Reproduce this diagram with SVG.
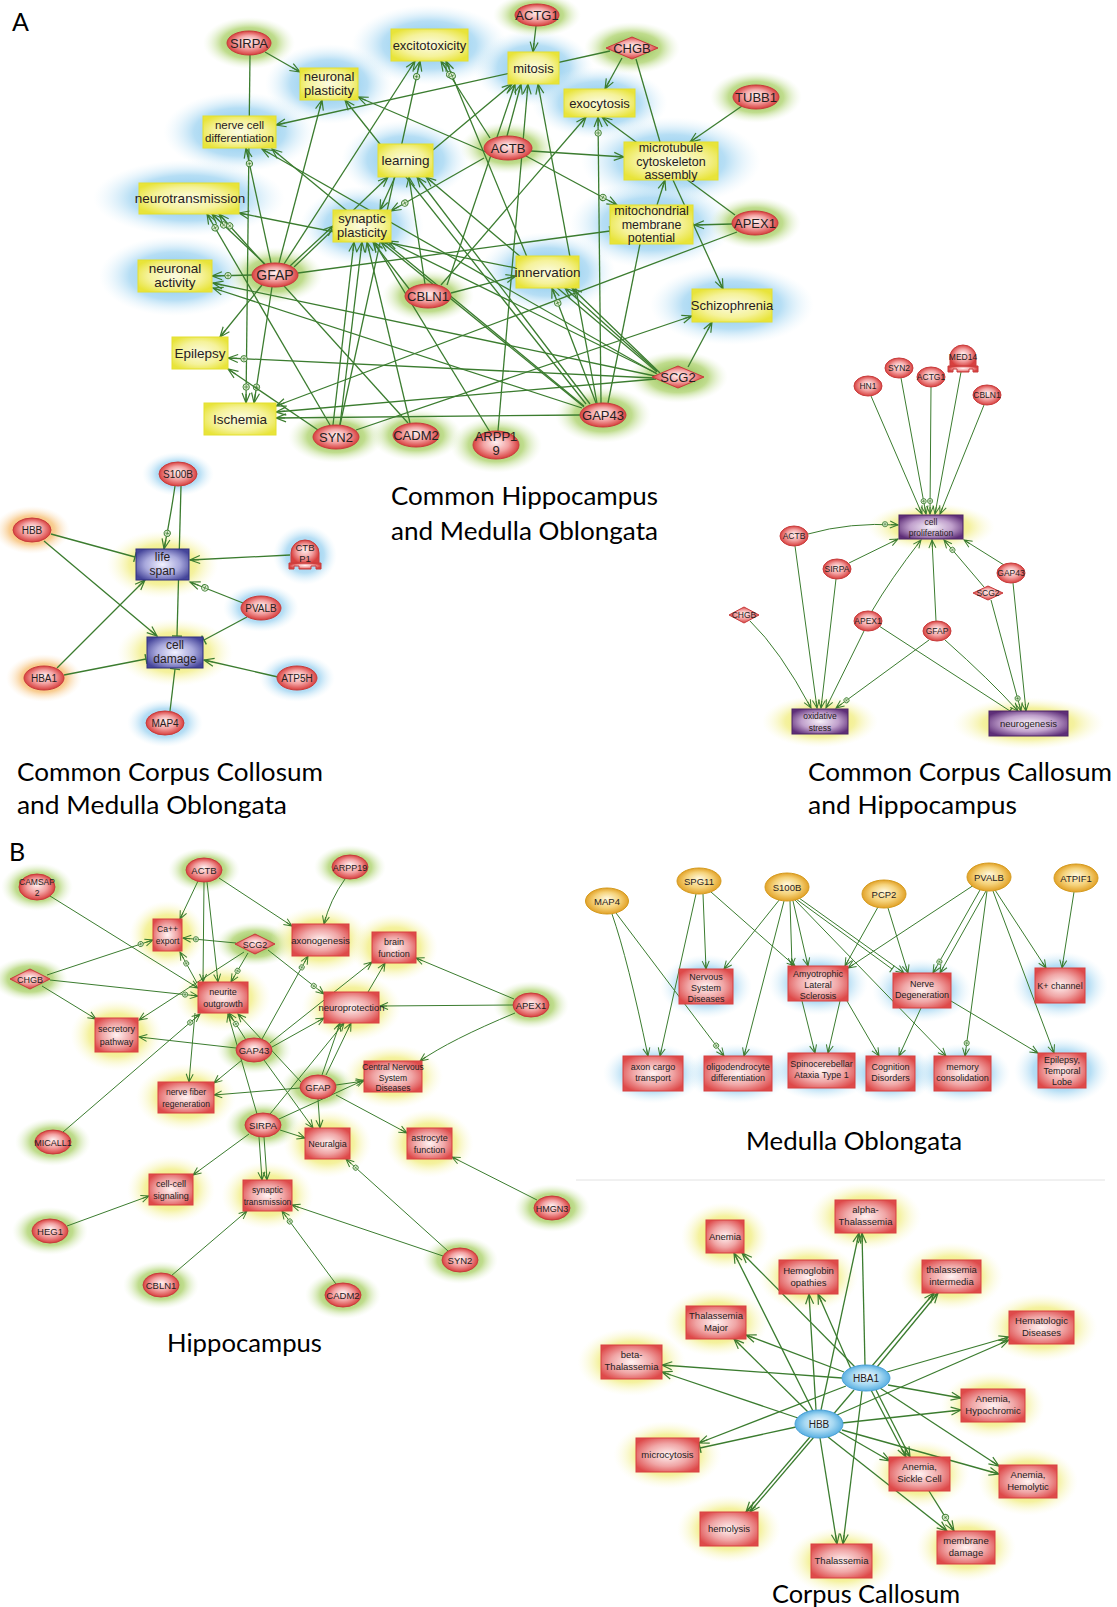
<svg xmlns="http://www.w3.org/2000/svg" width="1117" height="1607" viewBox="0 0 1117 1607">
<style>
.e{stroke:#3b7c2f;stroke-width:1.3;fill:none}
.s{stroke:#3b7c2f;stroke-width:1;fill:none}
.a{marker-end:url(#ar)}
.c{marker-end:url(#arc)}
.b{marker-end:url(#br)}
.sa{marker-end:url(#as)}
.sc{marker-end:url(#asc)}
.sb{marker-end:url(#bs)}
.t{font-family:"Liberation Sans",Arial,sans-serif;fill:#262020;text-anchor:middle}
.cap{font-family:Lato,"Liberation Sans",Arial,sans-serif;fill:#000;font-size:25px}
.gr{fill:url(#gRed);stroke:#c83c3c;stroke-width:1}
.py{fill:url(#gYel);stroke:#e4e030;stroke-width:1}
.pr{fill:url(#gRbox);stroke:#d84040;stroke-width:1}
.pb{fill:url(#gBlu);stroke:#2f2f80;stroke-width:1}
.pp{fill:url(#gPur);stroke:#4c2466;stroke-width:1}
.go{fill:url(#gGold);stroke:#d49a1e;stroke-width:1}
.bl{fill:url(#gBel);stroke:#4aa0d6;stroke-width:1}
.hB{fill:url(#hB)}.hG{fill:url(#hG)}.hY{fill:url(#hY)}.hO{fill:url(#hO)}
</style>
<defs>
<radialGradient id="gRed" cx="0.5" cy="0.5" r="0.5" fx="0.5" fy="0.4"><stop offset="0" stop-color="#fff2f2"/><stop offset="0.55" stop-color="#f3a3a3"/><stop offset="1" stop-color="#d8403f"/></radialGradient>
<radialGradient id="gYel" cx="0.5" cy="0.5" r="0.6"><stop offset="0" stop-color="#fbfbe2"/><stop offset="0.6" stop-color="#f5f29a"/><stop offset="1" stop-color="#e8e43a"/></radialGradient>
<radialGradient id="gRbox" cx="0.5" cy="0.5" r="0.6"><stop offset="0" stop-color="#fff3f3"/><stop offset="0.55" stop-color="#f0a6a6"/><stop offset="1" stop-color="#de4a4a"/></radialGradient>
<radialGradient id="gBlu" cx="0.5" cy="0.5" r="0.6"><stop offset="0" stop-color="#f2f2ff"/><stop offset="0.55" stop-color="#a8a8dc"/><stop offset="1" stop-color="#45459a"/></radialGradient>
<radialGradient id="gPur" cx="0.5" cy="0.5" r="0.6"><stop offset="0" stop-color="#f6f0f8"/><stop offset="0.55" stop-color="#c0a0cc"/><stop offset="1" stop-color="#5e2e78"/></radialGradient>
<radialGradient id="gGold" cx="0.5" cy="0.5" r="0.5" fy="0.4"><stop offset="0" stop-color="#fff8dc"/><stop offset="0.6" stop-color="#f5d27a"/><stop offset="1" stop-color="#e2a228"/></radialGradient>
<radialGradient id="gBel" cx="0.5" cy="0.5" r="0.5" fy="0.4"><stop offset="0" stop-color="#f2faff"/><stop offset="0.6" stop-color="#a6d8f2"/><stop offset="1" stop-color="#5ab0e2"/></radialGradient>
<radialGradient id="hB"><stop offset="0" stop-color="#74c0ea" stop-opacity="1"/><stop offset="0.6" stop-color="#a4d6f2" stop-opacity="0.8"/><stop offset="1" stop-color="#e0f2fb" stop-opacity="0"/></radialGradient>
<radialGradient id="hG"><stop offset="0" stop-color="#7fb43a" stop-opacity="1"/><stop offset="0.6" stop-color="#b0d472" stop-opacity="0.8"/><stop offset="1" stop-color="#e6f2d6" stop-opacity="0"/></radialGradient>
<radialGradient id="hY"><stop offset="0" stop-color="#ebe63c" stop-opacity="1"/><stop offset="0.6" stop-color="#f2ee88" stop-opacity="0.8"/><stop offset="1" stop-color="#fbfad8" stop-opacity="0"/></radialGradient>
<radialGradient id="hO"><stop offset="0" stop-color="#f29428" stop-opacity="1"/><stop offset="0.6" stop-color="#f7c27a" stop-opacity="0.8"/><stop offset="1" stop-color="#fcebd2" stop-opacity="0"/></radialGradient>
<marker id="ar" markerUnits="userSpaceOnUse" markerWidth="12" markerHeight="10" refX="10" refY="4" orient="auto" overflow="visible"><path d="M0,0 L10,4 L0,8 M1,4 L10,4" fill="none" stroke="#3b7c2f" stroke-width="1.2"/></marker>
<marker id="arc" markerUnits="userSpaceOnUse" markerWidth="12" markerHeight="10" refX="10" refY="4" orient="auto" overflow="visible"><path d="M0,0 L10,4 L0,8 M1,4 L10,4" fill="none" stroke="#3b7c2f" stroke-width="1.2"/><circle cx="-6" cy="4" r="3.2" fill="#dcebd0" stroke="#3b7c2f" stroke-width="0.9"/><path d="M-8,4 L-4,4 M-6,2 L-6,6" stroke="#3b7c2f" stroke-width="0.7"/></marker>
<marker id="br" markerUnits="userSpaceOnUse" markerWidth="4" markerHeight="12" refX="1" refY="0" orient="auto" overflow="visible"><path d="M1,-5 L1,5" stroke="#3b7c2f" stroke-width="1.4"/></marker>
<marker id="as" markerUnits="userSpaceOnUse" markerWidth="9" markerHeight="8" refX="8" refY="3.5" orient="auto" overflow="visible"><path d="M0,0 L8,3.5 L0,7 M1,3.5 L8,3.5" fill="none" stroke="#3b7c2f" stroke-width="1"/></marker>
<marker id="asc" markerUnits="userSpaceOnUse" markerWidth="9" markerHeight="8" refX="8" refY="3.5" orient="auto" overflow="visible"><path d="M0,0 L8,3.5 L0,7 M1,3.5 L8,3.5" fill="none" stroke="#3b7c2f" stroke-width="1"/><circle cx="-5" cy="3.5" r="2.6" fill="#dcebd0" stroke="#3b7c2f" stroke-width="0.8"/><path d="M-6.6,3.5 L-3.4,3.5 M-5,1.9 L-5,5.1" stroke="#3b7c2f" stroke-width="0.6"/></marker>
<marker id="bs" markerUnits="userSpaceOnUse" markerWidth="4" markerHeight="10" refX="1" refY="0" orient="auto" overflow="visible"><path d="M1,-4 L1,4" stroke="#3b7c2f" stroke-width="1.2"/></marker>
</defs>
<rect width="1117" height="1607" fill="#ffffff"/>

<g id="halos">
<ellipse class="hB" cx="429.5" cy="45" rx="78" ry="40"/>
<ellipse class="hB" cx="329" cy="84" rx="64" ry="40"/>
<ellipse class="hB" cx="533.5" cy="68" rx="60" ry="38"/>
<ellipse class="hB" cx="599.5" cy="103" rx="68" ry="36"/>
<ellipse class="hB" cx="239.5" cy="132" rx="76" ry="40"/>
<ellipse class="hB" cx="405.5" cy="160" rx="64" ry="40"/>
<ellipse class="hB" cx="671" cy="161" rx="90" ry="44"/>
<ellipse class="hB" cx="189" cy="198" rx="96" ry="38"/>
<ellipse class="hB" cx="362" cy="226" rx="62" ry="40"/>
<ellipse class="hB" cx="651.5" cy="224" rx="82" ry="44"/>
<ellipse class="hB" cx="547.5" cy="272" rx="68" ry="40"/>
<ellipse class="hB" cx="175" cy="276" rx="76" ry="40"/>
<ellipse class="hB" cx="732" cy="305" rx="82" ry="40"/>
<ellipse class="hG" cx="249" cy="43" rx="46" ry="26"/>
<ellipse class="hG" cx="537" cy="15" rx="44" ry="22"/>
<ellipse class="hG" cx="632" cy="48" rx="48" ry="26"/>
<ellipse class="hG" cx="756" cy="97" rx="46" ry="26"/>
<ellipse class="hG" cx="508" cy="148" rx="48" ry="26"/>
<ellipse class="hG" cx="755" cy="223" rx="46" ry="26"/>
<ellipse class="hG" cx="275" cy="275" rx="48" ry="28"/>
<ellipse class="hG" cx="428" cy="296" rx="46" ry="26"/>
<ellipse class="hG" cx="678" cy="377" rx="50" ry="26"/>
<ellipse class="hG" cx="603" cy="415" rx="48" ry="28"/>
<ellipse class="hG" cx="336" cy="437" rx="48" ry="26"/>
<ellipse class="hG" cx="416" cy="435" rx="46" ry="26"/>
<ellipse class="hG" cx="496" cy="445" rx="46" ry="28"/>
<ellipse class="hB" cx="178" cy="474" rx="36" ry="22"/>
<ellipse class="hO" cx="32" cy="530" rx="38" ry="24"/>
<ellipse class="hY" cx="162.5" cy="564.5" rx="56" ry="34"/>
<ellipse class="hB" cx="305" cy="555" rx="32" ry="30"/>
<ellipse class="hB" cx="261" cy="608" rx="38" ry="24"/>
<ellipse class="hY" cx="175" cy="652.5" rx="58" ry="34"/>
<ellipse class="hO" cx="44" cy="678" rx="38" ry="24"/>
<ellipse class="hB" cx="297" cy="678" rx="38" ry="24"/>
<ellipse class="hB" cx="165" cy="723" rx="38" ry="24"/>
<ellipse class="hY" cx="931" cy="527" rx="64" ry="24"/>
<ellipse class="hY" cx="820" cy="721.5" rx="58" ry="26"/>
<ellipse class="hY" cx="1028.5" cy="723.5" rx="76" ry="26"/>
<ellipse class="hG" cx="37" cy="887" rx="36" ry="24"/>
<ellipse class="hG" cx="204" cy="870" rx="36" ry="22"/>
<ellipse class="hG" cx="350" cy="867" rx="36" ry="22"/>
<ellipse class="hG" cx="255" cy="944" rx="40" ry="22"/>
<ellipse class="hG" cx="30" cy="979" rx="38" ry="22"/>
<ellipse class="hG" cx="254" cy="1050" rx="38" ry="24"/>
<ellipse class="hG" cx="531" cy="1005" rx="38" ry="24"/>
<ellipse class="hG" cx="318" cy="1087" rx="38" ry="24"/>
<ellipse class="hG" cx="263" cy="1125" rx="38" ry="24"/>
<ellipse class="hG" cx="53" cy="1142" rx="38" ry="24"/>
<ellipse class="hG" cx="552" cy="1208" rx="38" ry="24"/>
<ellipse class="hG" cx="50" cy="1231" rx="38" ry="24"/>
<ellipse class="hG" cx="460" cy="1260" rx="38" ry="24"/>
<ellipse class="hG" cx="161" cy="1285" rx="38" ry="24"/>
<ellipse class="hG" cx="343" cy="1295" rx="38" ry="24"/>
<ellipse class="hY" cx="167.5" cy="935" rx="38" ry="34"/>
<ellipse class="hY" cx="320.5" cy="940" rx="50" ry="34"/>
<ellipse class="hY" cx="394" cy="947.5" rx="44" ry="34"/>
<ellipse class="hY" cx="223" cy="997.5" rx="48" ry="34"/>
<ellipse class="hY" cx="351.5" cy="1007.5" rx="50" ry="34"/>
<ellipse class="hY" cx="116.5" cy="1035" rx="46" ry="36"/>
<ellipse class="hY" cx="393" cy="1076.5" rx="50" ry="32"/>
<ellipse class="hY" cx="186" cy="1097.5" rx="50" ry="34"/>
<ellipse class="hY" cx="327.5" cy="1143.5" rx="44" ry="34"/>
<ellipse class="hY" cx="429.5" cy="1143.5" rx="44" ry="34"/>
<ellipse class="hY" cx="171" cy="1189.5" rx="44" ry="34"/>
<ellipse class="hY" cx="267.5" cy="1195.5" rx="46" ry="34"/>
<ellipse class="hB" cx="706" cy="986.5" rx="46" ry="32"/>
<ellipse class="hB" cx="818" cy="983.5" rx="50" ry="32"/>
<ellipse class="hB" cx="922" cy="990.5" rx="50" ry="32"/>
<ellipse class="hB" cx="1060" cy="985.5" rx="48" ry="34"/>
<ellipse class="hB" cx="653" cy="1073.5" rx="50" ry="30"/>
<ellipse class="hB" cx="738" cy="1073.5" rx="52" ry="30"/>
<ellipse class="hB" cx="821.5" cy="1070.5" rx="52" ry="30"/>
<ellipse class="hB" cx="890.5" cy="1073.5" rx="44" ry="30"/>
<ellipse class="hB" cx="962.5" cy="1073.5" rx="48" ry="30"/>
<ellipse class="hB" cx="1062" cy="1070.5" rx="48" ry="34"/>
<ellipse class="hY" cx="865.5" cy="1216.5" rx="56" ry="34"/>
<ellipse class="hY" cx="725" cy="1236.5" rx="44" ry="34"/>
<ellipse class="hY" cx="808.5" cy="1277" rx="50" ry="34"/>
<ellipse class="hY" cx="951.5" cy="1276.5" rx="52" ry="34"/>
<ellipse class="hY" cx="716" cy="1322.5" rx="52" ry="34"/>
<ellipse class="hY" cx="1041.5" cy="1327.5" rx="56" ry="34"/>
<ellipse class="hY" cx="631.5" cy="1362" rx="54" ry="34"/>
<ellipse class="hY" cx="993" cy="1405.5" rx="52" ry="34"/>
<ellipse class="hY" cx="667.5" cy="1455" rx="54" ry="34"/>
<ellipse class="hY" cx="919.5" cy="1474" rx="50" ry="34"/>
<ellipse class="hY" cx="1028" cy="1481.5" rx="50" ry="34"/>
<ellipse class="hY" cx="729" cy="1529" rx="52" ry="34"/>
<ellipse class="hY" cx="966" cy="1547.5" rx="50" ry="34"/>
<ellipse class="hY" cx="841.5" cy="1561" rx="54" ry="34"/>
</g>

<g id="connectors">
<path class="e a" d="M265,52 L300,72"/>
<path class="e c" d="M250,55 L246,403"/>
<path class="e a" d="M610,51 L276,125"/>
<path class="e c" d="M271,263 L246,148"/>
<path class="e a" d="M279,263 L322,100"/>
<path class="e a" d="M284,264 L415,61"/>
<path class="e a" d="M290,266 L333,226"/>
<path class="e a" d="M294,267 L388,177"/>
<path class="e c" d="M265,264 L212,214"/>
<path class="e c" d="M252,275 L212,276"/>
<path class="e a" d="M262,285 L220,337"/>
<path class="e c" d="M272,287 L254,403"/>
<path class="e b" d="M298,273 L610,231"/>
<path class="e c" d="M330,425 L207,214"/>
<path class="e c" d="M408,423 L219,214"/>
<path class="e a" d="M486,152 L358,97"/>
<path class="e c" d="M340,425 L420,61"/>
<path class="e c" d="M490,138 L441,61"/>
<path class="e c" d="M527,257 L446,61"/>
<path class="e a" d="M433,150 L512,84"/>
<path class="e c" d="M484,158 L391,211"/>
<path class="e a" d="M395,177 L380,210"/>
<path class="e a" d="M425,284 L409,177"/>
<path class="e a" d="M590,404 L417,177"/>
<path class="e a" d="M657,372 L426,177"/>
<path class="e a" d="M410,290 L373,242"/>
<path class="e a" d="M333,425 L354,242"/>
<path class="e a" d="M340,425 L362,242"/>
<path class="e a" d="M410,423 L367,242"/>
<path class="e a" d="M490,432 L374,242"/>
<path class="e a" d="M584,407 L381,242"/>
<path class="e a" d="M656,373 L388,241"/>
<path class="e a" d="M451,293 L516,276"/>
<path class="e a" d="M441,285 L586,117"/>
<path class="e a" d="M447,285 L515,84"/>
<path class="e c" d="M601,403 L598,117"/>
<path class="e a" d="M597,403 L538,84"/>
<path class="e a" d="M498,431 L528,84"/>
<path class="e a" d="M507,136 L521,84"/>
<path class="e a" d="M536,26 L533,52"/>
<path class="e a" d="M622,58 L605,89"/>
<path class="e" d="M636,59 L660,142"/>
<path class="e a" d="M742,106 L690,142"/>
<path class="e a" d="M531,151 L624,157"/>
<path class="e c" d="M526,156 L617,205"/>
<path class="e a" d="M735,215 L602,117"/>
<path class="e a" d="M657,205 L665,180"/>
<path class="e a" d="M673,180 L723,289"/>
<path class="e a" d="M732,224 L694,225"/>
<path class="e a" d="M737,232 L276,406"/>
<path class="e" d="M608,403 L640,244"/>
<path class="e a" d="M688,367 L712,322"/>
<path class="e a" d="M356,430 L692,316"/>
<path class="e c" d="M596,403 L552,288"/>
<path class="e a" d="M657,371 L565,288"/>
<path class="e a" d="M660,373 L572,288"/>
<path class="e a" d="M516,268 L239,213"/>
<path class="e a" d="M655,376 L213,283"/>
<path class="e a" d="M582,408 L213,288"/>
<path class="e c" d="M654,378 L228,358"/>
<path class="e a" d="M318,430 L228,369"/>
<path class="e a" d="M580,415 L276,418"/>
<path class="e a" d="M656,379 L276,412"/>
<path class="e a" d="M586,404 L345,100"/>
<path class="e a" d="M657,374 L262,149"/>
<path class="e a" d="M584,406 L272,149"/>
<path class="e c" d="M175,486 Q170,520 164,549"/>
<path class="e b" d="M181,486 L177,636"/>
<path class="e b" d="M51,534 L135,557"/>
<path class="e a" d="M44,541 L157,636"/>
<path class="e a" d="M290,555 L190,560"/>
<path class="e c" d="M243,603 L190,582"/>
<path class="e b" d="M247,617 L204,640"/>
<path class="e a" d="M57,668 L145,580"/>
<path class="e b" d="M64,675 L146,659"/>
<path class="e a" d="M278,677 L204,660"/>
<path class="e b" d="M170,711 L175,669"/>
<path class="s sa" d="M871,396 L922,514"/>
<path class="s sc" d="M901,378 L926,514"/>
<path class="s sc" d="M931,387 L930,514"/>
<path class="s sa" d="M961,372 L935,514"/>
<path class="s sa" d="M984,405 L940,514"/>
<path class="s sc" d="M808,534 Q850,522 898,525"/>
<path class="s sa" d="M849,563 L898,539"/>
<path class="s sa" d="M872,611 Q890,580 921,540"/>
<path class="s sa" d="M936,621 L932,540"/>
<path class="s sc" d="M984,587 L944,540"/>
<path class="s sa" d="M1004,565 L964,540"/>
<path class="s sa" d="M795,546 L817,708"/>
<path class="s sa" d="M836,579 L821,708"/>
<path class="s sa" d="M750,621 Q780,650 811,708"/>
<path class="s sa" d="M864,631 L826,708"/>
<path class="s sc" d="M929,640 L836,708"/>
<path class="s sb" d="M879,626 L1010,711"/>
<path class="s sa" d="M945,640 Q990,680 1018,711"/>
<path class="s sc" d="M991,600 L1021,711"/>
<path class="s sa" d="M1013,583 L1026,711"/>
<path class="s sa" d="M198,881 L180,919"/>
<path class="s sa" d="M204,882 L203,982"/>
<path class="s sa" d="M207,882 L218,982"/>
<path class="s sa" d="M219,878 L292,926"/>
<path class="s sa" d="M345,879 Q330,900 324,924"/>
<path class="s sa" d="M50,896 L198,988"/>
<path class="s sc" d="M47,975 L153,940"/>
<path class="s sc" d="M50,980 L198,996"/>
<path class="s sa" d="M42,986 L96,1019"/>
<path class="s sc" d="M236,943 L183,938"/>
<path class="s sc" d="M248,953 L231,982"/>
<path class="s sa" d="M244,952 L139,1020"/>
<path class="s sc" d="M268,950 L324,994"/>
<path class="s sc" d="M197,983 L180,952"/>
<path class="s sc" d="M246,1040 L229,1013"/>
<path class="s sa" d="M236,1048 L139,1037"/>
<path class="s sa" d="M242,1060 L214,1083"/>
<path class="s sc" d="M262,1039 L308,956"/>
<path class="s sa" d="M270,1043 L372,962"/>
<path class="s sa" d="M272,1047 L324,1018"/>
<path class="s sa" d="M264,1060 L313,1128"/>
<path class="s sc" d="M63,1132 L200,1014"/>
<path class="s sa" d="M195,1013 L189,1082"/>
<path class="s sa" d="M257,1114 L228,1014"/>
<path class="s sa" d="M301,1082 L238,1014"/>
<path class="s sa" d="M249,1134 L193,1175"/>
<path class="s sa" d="M259,1137 L262,1180"/>
<path class="s sa" d="M264,1137 L267,1180"/>
<path class="s sa" d="M280,1130 L305,1138"/>
<path class="s sa" d="M270,1114 L344,1023"/>
<path class="s sa" d="M279,1119 L364,1080"/>
<path class="s sa" d="M322,1075 L340,1023"/>
<path class="s sa" d="M326,1075 L351,1023"/>
<path class="s sa" d="M336,1085 L364,1081"/>
<path class="s sa" d="M318,1099 L320,1128"/>
<path class="s sa" d="M336,1095 L407,1133"/>
<path class="s sa" d="M300,1088 L214,1095"/>
<path class="s sa" d="M368,992 L385,963"/>
<path class="s sa" d="M514,999 L416,958"/>
<path class="s sa" d="M513,1005 L380,1006"/>
<path class="s sa" d="M515,1013 Q450,1040 420,1061"/>
<path class="s sa" d="M537,1200 L452,1157"/>
<path class="s sa" d="M443,1256 L292,1205"/>
<path class="s sc" d="M448,1251 L346,1159"/>
<path class="s sc" d="M336,1284 L282,1211"/>
<path class="s sa" d="M171,1276 L247,1211"/>
<path class="s sa" d="M67,1226 L149,1196"/>
<path class="s sa" d="M612,914 Q628,960 648,1056"/>
<path class="s sc" d="M616,913 L724,1056"/>
<path class="s sa" d="M703,894 L706,969"/>
<path class="s sa" d="M696,894 L660,1056"/>
<path class="s sa" d="M711,892 L795,966"/>
<path class="s sa" d="M780,899 L724,969"/>
<path class="s sa" d="M784,901 L744,1056"/>
<path class="s sa" d="M790,901 L792,966"/>
<path class="s sa" d="M793,901 L808,966"/>
<path class="s sa" d="M799,898 L904,973"/>
<path class="s sb" d="M796,899 L892,969"/>
<path class="s sa" d="M795,900 L946,1056"/>
<path class="s sa" d="M878,907 L845,966"/>
<path class="s sa" d="M888,908 L908,973"/>
<path class="s sa" d="M974,885 L848,968"/>
<path class="s sc" d="M980,890 L933,973"/>
<path class="s sa" d="M986,891 L940,973"/>
<path class="s sc" d="M987,891 L965,1056"/>
<path class="s sa" d="M995,890 L1046,968"/>
<path class="s sa" d="M993,891 L1054,1053"/>
<path class="s sa" d="M1074,892 L1062,968"/>
<path class="s sa" d="M802,1001 L815,1053"/>
<path class="s sa" d="M840,1001 L828,1053"/>
<path class="s sa" d="M847,1001 L879,1056"/>
<path class="s sa" d="M921,1008 L899,1056"/>
<path class="s sa" d="M951,1001 L1038,1053"/>
<path class="e a" d="M865,1365 L862,1233"/>
<path class="e a" d="M821,1410 L859,1233"/>
<path class="e a" d="M855,1367 L742,1253"/>
<path class="e a" d="M813,1411 L734,1253"/>
<path class="e a" d="M851,1369 L818,1294"/>
<path class="e a" d="M816,1410 L809,1294"/>
<path class="e a" d="M872,1366 L934,1293"/>
<path class="e a" d="M877,1367 L938,1293"/>
<path class="e a" d="M844,1372 L746,1335"/>
<path class="e a" d="M808,1412 L734,1339"/>
<path class="e a" d="M842,1378 L662,1365"/>
<path class="e a" d="M798,1418 L662,1372"/>
<path class="e a" d="M887,1372 L1009,1337"/>
<path class="e a" d="M837,1415 L1009,1340"/>
<path class="e a" d="M888,1385 L961,1398"/>
<path class="e a" d="M842,1423 L961,1410"/>
<path class="e a" d="M846,1386 L699,1443"/>
<path class="e b" d="M796,1427 L700,1448"/>
<path class="e a" d="M871,1390 L906,1457"/>
<path class="e a" d="M876,1390 L910,1457"/>
<path class="e a" d="M838,1431 L890,1461"/>
<path class="e a" d="M880,1388 L999,1466"/>
<path class="e a" d="M842,1430 L999,1474"/>
<path class="e a" d="M854,1390 L750,1512"/>
<path class="e a" d="M810,1437 L746,1512"/>
<path class="e a" d="M828,1437 L947,1531"/>
<path class="e c" d="M929,1491 L954,1531"/>
<path class="e a" d="M820,1438 L837,1544"/>
<path class="e a" d="M862,1391 L843,1544"/>
</g>

<g id="A-excitotoxicity"><rect class="py" x="391" y="29" width="77" height="32"/><text class="t" x="429.5" y="50" font-size="13">excitotoxicity</text></g>
<g id="A-neuronal-plasticity"><rect class="py" x="300" y="68" width="58" height="32"/><text class="t" x="329" y="81" font-size="13">neuronal</text><text class="t" x="329" y="95" font-size="13">plasticity</text></g>
<g id="A-mitosis"><rect class="py" x="508" y="52" width="51" height="32"/><text class="t" x="533.5" y="73" font-size="13">mitosis</text></g>
<g id="A-exocytosis"><rect class="py" x="564" y="89" width="71" height="28"/><text class="t" x="599.5" y="107.5" font-size="13">exocytosis</text></g>
<g id="A-nerve-cell-differentiation"><rect class="py" x="203" y="116" width="73" height="32"/><text class="t" x="239.5" y="129" font-size="11.5">nerve cell</text><text class="t" x="239.5" y="142" font-size="11.5">differentiation</text></g>
<g id="A-learning"><rect class="py" x="378" y="144" width="55" height="33"/><text class="t" x="405.5" y="165" font-size="13.5">learning</text></g>
<g id="A-microtubule"><rect class="py" x="624" y="142" width="94" height="38"/><text class="t" x="671" y="152" font-size="12.5">microtubule</text><text class="t" x="671" y="165.5" font-size="12.5">cytoskeleton</text><text class="t" x="671" y="179" font-size="12.5">assembly</text></g>
<g id="A-neurotransmission"><rect class="py" x="139" y="183" width="100" height="31"/><text class="t" x="190" y="203" font-size="13.5">neurotransmission</text></g>
<g id="A-synaptic-plasticity"><rect class="py" x="333" y="210" width="58" height="32"/><text class="t" x="362" y="223" font-size="13">synaptic</text><text class="t" x="362" y="237" font-size="13">plasticity</text></g>
<g id="A-mitochondrial"><rect class="py" x="610" y="205" width="83" height="39"/><text class="t" x="651.5" y="215" font-size="12.5">mitochondrial</text><text class="t" x="651.5" y="228.5" font-size="12.5">membrane</text><text class="t" x="651.5" y="242" font-size="12.5">potential</text></g>
<g id="A-innervation"><rect class="py" x="516" y="256" width="63" height="32"/><text class="t" x="547.5" y="276.5" font-size="13.5">innervation</text></g>
<g id="A-neuronal-activity"><rect class="py" x="138" y="260" width="74" height="32"/><text class="t" x="175" y="273" font-size="13.5">neuronal</text><text class="t" x="175" y="287" font-size="13.5">activity</text></g>
<g id="A-schizophrenia"><rect class="py" x="692" y="289" width="80" height="33"/><text class="t" x="732" y="310" font-size="13">Schizophrenia</text></g>
<g id="A-epilepsy"><rect class="py" x="172" y="337" width="56" height="32"/><text class="t" x="200" y="358" font-size="13.5">Epilepsy</text></g>
<g id="A-ischemia"><rect class="py" x="204" y="403" width="72" height="32"/><text class="t" x="240" y="424" font-size="13.5">Ischemia</text></g>

<g id="A-SIRPA"><ellipse class="gr" cx="249" cy="43" rx="22" ry="12"/><text class="t" x="249" y="47.5" font-size="13">SIRPA</text></g>
<g id="A-ACTG1"><ellipse class="gr" cx="537" cy="15" rx="22" ry="11"/><text class="t" x="537" y="19.5" font-size="13">ACTG1</text></g>
<g id="A-CHGB"><polygon class="gr" points="606,48 632,37 658,48 632,59"/><text class="t" x="632" y="52.5" font-size="13">CHGB</text></g>
<g id="A-TUBB1"><ellipse class="gr" cx="756" cy="97" rx="23" ry="12"/><text class="t" x="756" y="101.5" font-size="13">TUBB1</text></g>
<g id="A-ACTB"><ellipse class="gr" cx="508" cy="148" rx="24" ry="12"/><text class="t" x="508" y="152.5" font-size="13">ACTB</text></g>
<g id="A-APEX1"><ellipse class="gr" cx="755" cy="223" rx="23" ry="12"/><text class="t" x="755" y="227.5" font-size="13">APEX1</text></g>
<g id="A-GFAP"><ellipse class="gr" cx="275" cy="275" rx="23" ry="12"/><text class="t" x="275" y="280" font-size="14">GFAP</text></g>
<g id="A-CBLN1"><ellipse class="gr" cx="428" cy="296" rx="23" ry="12"/><text class="t" x="428" y="300.5" font-size="13">CBLN1</text></g>
<g id="A-SCG2"><polygon class="gr" points="652,377 678,366 704,377 678,388"/><text class="t" x="678" y="381.5" font-size="13">SCG2</text></g>
<g id="A-GAP43"><ellipse class="gr" cx="603" cy="415" rx="23" ry="12"/><text class="t" x="603" y="419.5" font-size="13">GAP43</text></g>
<g id="A-SYN2"><ellipse class="gr" cx="336" cy="437" rx="23" ry="12"/><text class="t" x="336" y="441.5" font-size="13">SYN2</text></g>
<g id="A-CADM2"><ellipse class="gr" cx="416" cy="435" rx="23" ry="12"/><text class="t" x="416" y="439.5" font-size="13">CADM2</text></g>
<g id="A-ARPP19"><ellipse class="gr" cx="496" cy="445" rx="23" ry="14"/><text class="t" x="496" y="441" font-size="13">ARPP1</text><text class="t" x="496" y="455" font-size="13">9</text></g>

<g id="L-life-span"><rect class="pb" x="136" y="549" width="53" height="31"/><text class="t" x="162.5" y="561" font-size="12">life</text><text class="t" x="162.5" y="575" font-size="12">span</text></g>
<g id="L-cell-damage"><rect class="pb" x="147" y="637" width="56" height="31"/><text class="t" x="175" y="649" font-size="12">cell</text><text class="t" x="175" y="663" font-size="12">damage</text></g>
<g id="L-S100B"><ellipse class="gr" cx="178" cy="474" rx="19" ry="12"/><text class="t" x="178" y="477.5" font-size="10">S100B</text></g>
<g id="L-HBB"><ellipse class="gr" cx="32" cy="530" rx="19" ry="12"/><text class="t" x="32" y="533.5" font-size="10">HBB</text></g>
<g id="L-CTBP1"><path class="gr" d="M291,564 L291,553 A14,13 0 0,1 319,553 L319,564 Z"/><path class="gr" d="M289,569 L289,563 L321,563 L321,569 L316,569 L316,566 L311,566 L311,569 L299,569 L299,566 L294,566 L294,569 Z"/><text class="t" x="305" y="551" font-size="9.5">CTB</text><text class="t" x="305" y="561.5" font-size="9.5">P1</text></g>
<g id="L-PVALB"><ellipse class="gr" cx="261" cy="608" rx="20" ry="12"/><text class="t" x="261" y="611.5" font-size="10">PVALB</text></g>
<g id="L-HBA1"><ellipse class="gr" cx="44" cy="678" rx="20" ry="12"/><text class="t" x="44" y="681.5" font-size="10">HBA1</text></g>
<g id="L-ATP5H"><ellipse class="gr" cx="297" cy="678" rx="20" ry="12"/><text class="t" x="297" y="681.5" font-size="10">ATP5H</text></g>
<g id="L-MAP4"><ellipse class="gr" cx="165" cy="723" rx="19" ry="12"/><text class="t" x="165" y="726.5" font-size="10">MAP4</text></g>

<g id="R-cell-proliferation"><rect class="pp" x="899" y="515" width="64" height="24"/><text class="t" x="931" y="524.5" font-size="8.5">cell</text><text class="t" x="931" y="535.5" font-size="8.5">proliferation</text></g>
<g id="R-oxidative-stress"><rect class="pp" x="792" y="709" width="56" height="25"/><text class="t" x="820" y="719" font-size="8.5">oxidative</text><text class="t" x="820" y="731" font-size="8.5">stress</text></g>
<g id="R-neurogenesis"><rect class="pp" x="989" y="711" width="79" height="25"/><text class="t" x="1028.5" y="727" font-size="9.5">neurogenesis</text></g>
<g id="R-HN1"><ellipse class="gr" cx="868" cy="386" rx="14" ry="10"/><text class="t" x="868" y="389" font-size="8.5">HN1</text></g>
<g id="R-SYN2"><ellipse class="gr" cx="899" cy="368" rx="14" ry="10"/><text class="t" x="899" y="371" font-size="8.5">SYN2</text></g>
<g id="R-ACTG1"><ellipse class="gr" cx="931" cy="377" rx="14" ry="10"/><text class="t" x="931" y="380" font-size="8.5">ACTG1</text></g>
<g id="R-MED14"><path class="gr" d="M950,367 L950,357 A13,12 0 0,1 976,357 L976,367 Z"/><path class="gr" d="M948,372 L948,366 L978,366 L978,372 L973,372 L973,369 L969,369 L969,372 L957,372 L957,369 L953,369 L953,372 Z"/><text class="t" x="963" y="360" font-size="8.5">MED14</text></g>
<g id="R-CBLN1"><ellipse class="gr" cx="987" cy="395" rx="14" ry="10"/><text class="t" x="987" y="398" font-size="8.5">CBLN1</text></g>
<g id="R-ACTB"><ellipse class="gr" cx="794" cy="536" rx="14" ry="10"/><text class="t" x="794" y="539" font-size="8.5">ACTB</text></g>
<g id="R-SIRPA"><ellipse class="gr" cx="837" cy="569" rx="14" ry="10"/><text class="t" x="837" y="572" font-size="8.5">SIRPA</text></g>
<g id="R-GAP43"><ellipse class="gr" cx="1011" cy="573" rx="14" ry="10"/><text class="t" x="1011" y="576" font-size="8.5">GAP43</text></g>
<g id="R-SCG2"><polygon class="gr" points="973,593 988,586 1003,593 988,600"/><text class="t" x="988" y="596" font-size="8.5">SCG2</text></g>
<g id="R-CHGB"><polygon class="gr" points="729,615 744,607 759,615 744,623"/><text class="t" x="744" y="618" font-size="8.5">CHGB</text></g>
<g id="R-APEX1"><ellipse class="gr" cx="868" cy="621" rx="14" ry="10"/><text class="t" x="868" y="624" font-size="8.5">APEX1</text></g>
<g id="R-GFAP"><ellipse class="gr" cx="937" cy="631" rx="14" ry="10"/><text class="t" x="937" y="634" font-size="8.5">GFAP</text></g>

<g id="H-Ca-export"><rect class="pr" x="153" y="919" width="29" height="32"/><text class="t" x="167.5" y="932" font-size="8.5">Ca++</text><text class="t" x="167.5" y="944" font-size="8.5">export</text></g>
<g id="H-axonogenesis"><rect class="pr" x="292" y="924" width="57" height="32"/><text class="t" x="320.5" y="943.5" font-size="9.5">axonogenesis</text></g>
<g id="H-brain-function"><rect class="pr" x="372" y="932" width="44" height="31"/><text class="t" x="394" y="945" font-size="9">brain</text><text class="t" x="394" y="957" font-size="9">function</text></g>
<g id="H-neurite-outgrowth"><rect class="pr" x="198" y="982" width="50" height="31"/><text class="t" x="223" y="995" font-size="9">neurite</text><text class="t" x="223" y="1007" font-size="9">outgrowth</text></g>
<g id="H-neuroprotection"><rect class="pr" x="324" y="992" width="55" height="31"/><text class="t" x="351.5" y="1010.5" font-size="9.5">neuroprotection</text></g>
<g id="H-secretory-pathway"><rect class="pr" x="95" y="1018" width="43" height="34"/><text class="t" x="116.5" y="1032" font-size="9">secretory</text><text class="t" x="116.5" y="1045" font-size="9">pathway</text></g>
<g id="H-CNS-diseases"><rect class="pr" x="364" y="1061" width="58" height="31"/><text class="t" x="393" y="1069.5" font-size="8.5">Central Nervous</text><text class="t" x="393" y="1080.5" font-size="8.5">System</text><text class="t" x="393" y="1091" font-size="8.5">Diseases</text></g>
<g id="H-nerve-fiber-regeneration"><rect class="pr" x="158" y="1082" width="56" height="31"/><text class="t" x="186" y="1095" font-size="8.5">nerve fiber</text><text class="t" x="186" y="1107" font-size="8.5">regeneration</text></g>
<g id="H-neuralgia"><rect class="pr" x="305" y="1128" width="45" height="31"/><text class="t" x="327.5" y="1147" font-size="9">Neuralgia</text></g>
<g id="H-astrocyte-function"><rect class="pr" x="407" y="1128" width="45" height="31"/><text class="t" x="429.5" y="1141" font-size="9">astrocyte</text><text class="t" x="429.5" y="1153" font-size="9">function</text></g>
<g id="H-cell-cell-signaling"><rect class="pr" x="149" y="1174" width="44" height="31"/><text class="t" x="171" y="1187" font-size="9">cell-cell</text><text class="t" x="171" y="1199" font-size="9">signaling</text></g>
<g id="H-synaptic-transmission"><rect class="pr" x="243" y="1180" width="49" height="31"/><text class="t" x="267.5" y="1193" font-size="8.5">synaptic</text><text class="t" x="267.5" y="1205" font-size="8.5">transmission</text></g>
<g id="H-CAMSAP2"><ellipse class="gr" cx="37" cy="887" rx="18" ry="13"/><text class="t" x="37" y="885" font-size="8.5">CAMSAP</text><text class="t" x="37" y="896" font-size="8.5">2</text></g>
<g id="H-ACTB"><ellipse class="gr" cx="204" cy="870" rx="18" ry="12"/><text class="t" x="204" y="873.5" font-size="9.5">ACTB</text></g>
<g id="H-ARPP19"><ellipse class="gr" cx="350" cy="867" rx="18" ry="12"/><text class="t" x="350" y="870.5" font-size="9">ARPP19</text></g>
<g id="H-SCG2"><polygon class="gr" points="235,944 255,934 275,944 255,954"/><text class="t" x="255" y="947.5" font-size="9">SCG2</text></g>
<g id="H-CHGB"><polygon class="gr" points="10,979 30,969 50,979 30,989"/><text class="t" x="30" y="982.5" font-size="9">CHGB</text></g>
<g id="H-GAP43"><ellipse class="gr" cx="254" cy="1050" rx="18" ry="12"/><text class="t" x="254" y="1053.5" font-size="9.5">GAP43</text></g>
<g id="H-APEX1"><ellipse class="gr" cx="531" cy="1005" rx="18" ry="12"/><text class="t" x="531" y="1008.5" font-size="9.5">APEX1</text></g>
<g id="H-GFAP"><ellipse class="gr" cx="318" cy="1087" rx="18" ry="12"/><text class="t" x="318" y="1090.5" font-size="9.5">GFAP</text></g>
<g id="H-SIRPA"><ellipse class="gr" cx="263" cy="1125" rx="18" ry="12"/><text class="t" x="263" y="1128.5" font-size="9.5">SIRPA</text></g>
<g id="H-MICALL1"><ellipse class="gr" cx="53" cy="1142" rx="18" ry="12"/><text class="t" x="53" y="1145.5" font-size="9">MICALL1</text></g>
<g id="H-HMGN3"><ellipse class="gr" cx="552" cy="1208" rx="18" ry="12"/><text class="t" x="552" y="1211.5" font-size="9">HMGN3</text></g>
<g id="H-HEG1"><ellipse class="gr" cx="50" cy="1231" rx="18" ry="12"/><text class="t" x="50" y="1234.5" font-size="9.5">HEG1</text></g>
<g id="H-SYN2"><ellipse class="gr" cx="460" cy="1260" rx="18" ry="12"/><text class="t" x="460" y="1263.5" font-size="9.5">SYN2</text></g>
<g id="H-CBLN1"><ellipse class="gr" cx="161" cy="1285" rx="18" ry="12"/><text class="t" x="161" y="1288.5" font-size="9.5">CBLN1</text></g>
<g id="H-CADM2"><ellipse class="gr" cx="343" cy="1295" rx="18" ry="12"/><text class="t" x="343" y="1298.5" font-size="9.5">CADM2</text></g>

<g id="M-MAP4"><ellipse class="go" cx="607" cy="901" rx="21.5" ry="13"/><text class="t" x="607" y="904.5" font-size="9.5">MAP4</text></g>
<g id="M-SPG11"><ellipse class="go" cx="699" cy="881" rx="22" ry="13"/><text class="t" x="699" y="884.5" font-size="9.5">SPG11</text></g>
<g id="M-S100B"><ellipse class="go" cx="787" cy="887" rx="22" ry="14"/><text class="t" x="787" y="890.5" font-size="9.5">S100B</text></g>
<g id="M-PCP2"><ellipse class="go" cx="884" cy="894" rx="22" ry="14"/><text class="t" x="884" y="897.5" font-size="9.5">PCP2</text></g>
<g id="M-PVALB"><ellipse class="go" cx="989" cy="877" rx="22" ry="14"/><text class="t" x="989" y="880.5" font-size="9.5">PVALB</text></g>
<g id="M-ATPIF1"><ellipse class="go" cx="1076" cy="878" rx="22" ry="14"/><text class="t" x="1076" y="881.5" font-size="9.5">ATPIF1</text></g>
<g id="M-nervous-system-diseases"><rect class="pr" x="679" y="969" width="54" height="35"/><text class="t" x="706" y="980" font-size="9">Nervous</text><text class="t" x="706" y="991" font-size="9">System</text><text class="t" x="706" y="1002" font-size="9">Diseases</text></g>
<g id="M-ALS"><rect class="pr" x="788" y="966" width="60" height="35"/><text class="t" x="818" y="977" font-size="9">Amyotrophic</text><text class="t" x="818" y="988" font-size="9">Lateral</text><text class="t" x="818" y="999" font-size="9">Sclerosis</text></g>
<g id="M-nerve-degeneration"><rect class="pr" x="893" y="973" width="58" height="35"/><text class="t" x="922" y="987" font-size="9">Nerve</text><text class="t" x="922" y="998" font-size="9">Degeneration</text></g>
<g id="M-K-channel"><rect class="pr" x="1035" y="968" width="50" height="35"/><text class="t" x="1060" y="989" font-size="9">K+ channel</text></g>
<g id="M-axon-cargo-transport"><rect class="pr" x="623" y="1056" width="60" height="35"/><text class="t" x="653" y="1070" font-size="9">axon cargo</text><text class="t" x="653" y="1081" font-size="9">transport</text></g>
<g id="M-oligodendrocyte"><rect class="pr" x="704" y="1056" width="68" height="35"/><text class="t" x="738" y="1070" font-size="9">oligodendrocyte</text><text class="t" x="738" y="1081" font-size="9">differentiation</text></g>
<g id="M-SCA1"><rect class="pr" x="788" y="1053" width="67" height="35"/><text class="t" x="821.5" y="1067" font-size="9">Spinocerebellar</text><text class="t" x="821.5" y="1078" font-size="9">Ataxia Type 1</text></g>
<g id="M-cognition-disorders"><rect class="pr" x="866" y="1056" width="49" height="35"/><text class="t" x="890.5" y="1070" font-size="9">Cognition</text><text class="t" x="890.5" y="1081" font-size="9">Disorders</text></g>
<g id="M-memory-consolidation"><rect class="pr" x="934" y="1056" width="57" height="35"/><text class="t" x="962.5" y="1070" font-size="9">memory</text><text class="t" x="962.5" y="1081" font-size="9">consolidation</text></g>
<g id="M-epilepsy-temporal-lobe"><rect class="pr" x="1038" y="1053" width="48" height="35"/><text class="t" x="1062" y="1062.5" font-size="9">Epilepsy,</text><text class="t" x="1062" y="1073.5" font-size="9">Temporal</text><text class="t" x="1062" y="1084.5" font-size="9">Lobe</text></g>

<line x1="576" y1="1180" x2="1105" y2="1180" stroke="#e2e2e2" stroke-width="1"/>

<g id="C-alpha-thalassemia"><rect class="pr" x="835" y="1200" width="61" height="33"/><text class="t" x="865.5" y="1213" font-size="9.5">alpha-</text><text class="t" x="865.5" y="1225" font-size="9.5">Thalassemia</text></g>
<g id="C-anemia"><rect class="pr" x="706" y="1220" width="38" height="33"/><text class="t" x="725" y="1240" font-size="9.5">Anemia</text></g>
<g id="C-hemoglobinopathies"><rect class="pr" x="779" y="1260" width="59" height="34"/><text class="t" x="808.5" y="1274" font-size="9.5">Hemoglobin</text><text class="t" x="808.5" y="1286" font-size="9.5">opathies</text></g>
<g id="C-thalassemia-intermedia"><rect class="pr" x="922" y="1260" width="59" height="33"/><text class="t" x="951.5" y="1273" font-size="9.5">thalassemia</text><text class="t" x="951.5" y="1285" font-size="9.5">intermedia</text></g>
<g id="C-thalassemia-major"><rect class="pr" x="686" y="1306" width="60" height="33"/><text class="t" x="716" y="1319" font-size="9.5">Thalassemia</text><text class="t" x="716" y="1331" font-size="9.5">Major</text></g>
<g id="C-hematologic-diseases"><rect class="pr" x="1009" y="1311" width="65" height="33"/><text class="t" x="1041.5" y="1324" font-size="9.5">Hematologic</text><text class="t" x="1041.5" y="1336" font-size="9.5">Diseases</text></g>
<g id="C-beta-thalassemia"><rect class="pr" x="601" y="1345" width="61" height="34"/><text class="t" x="631.5" y="1358" font-size="9.5">beta-</text><text class="t" x="631.5" y="1370" font-size="9.5">Thalassemia</text></g>
<g id="C-anemia-hypochromic"><rect class="pr" x="961" y="1389" width="64" height="33"/><text class="t" x="993" y="1402" font-size="9.5">Anemia,</text><text class="t" x="993" y="1414" font-size="9.5">Hypochromic</text></g>
<g id="C-microcytosis"><rect class="pr" x="636" y="1438" width="63" height="34"/><text class="t" x="667.5" y="1458" font-size="9.5">microcytosis</text></g>
<g id="C-anemia-sickle-cell"><rect class="pr" x="889" y="1457" width="61" height="34"/><text class="t" x="919.5" y="1470" font-size="9.5">Anemia,</text><text class="t" x="919.5" y="1482" font-size="9.5">Sickle Cell</text></g>
<g id="C-anemia-hemolytic"><rect class="pr" x="999" y="1465" width="58" height="33"/><text class="t" x="1028" y="1478" font-size="9.5">Anemia,</text><text class="t" x="1028" y="1490" font-size="9.5">Hemolytic</text></g>
<g id="C-hemolysis"><rect class="pr" x="700" y="1512" width="58" height="34"/><text class="t" x="729" y="1532" font-size="9.5">hemolysis</text></g>
<g id="C-membrane-damage"><rect class="pr" x="937" y="1531" width="58" height="33"/><text class="t" x="966" y="1544" font-size="9.5">membrane</text><text class="t" x="966" y="1556" font-size="9.5">damage</text></g>
<g id="C-thalassemia"><rect class="pr" x="811" y="1544" width="61" height="34"/><text class="t" x="841.5" y="1564" font-size="9.5">Thalassemia</text></g>
<g id="C-HBA1"><ellipse class="bl" cx="866" cy="1378" rx="24" ry="13"/><text class="t" x="866" y="1381.5" font-size="10">HBA1</text></g>
<g id="C-HBB"><ellipse class="bl" cx="819" cy="1424" rx="24" ry="14"/><text class="t" x="819" y="1427.5" font-size="10">HBB</text></g>

<g id="captions">
<text class="cap" x="12" y="31" font-size="22">A</text>
<text class="cap" x="391" y="505" textLength="267" lengthAdjust="spacingAndGlyphs">Common Hippocampus</text>
<text class="cap" x="391" y="540" textLength="267" lengthAdjust="spacingAndGlyphs">and Medulla Oblongata</text>
<text class="cap" x="17" y="781" textLength="306" lengthAdjust="spacingAndGlyphs">Common Corpus Collosum</text>
<text class="cap" x="17" y="814" textLength="270" lengthAdjust="spacingAndGlyphs">and Medulla Oblongata</text>
<text class="cap" x="808" y="781" textLength="304" lengthAdjust="spacingAndGlyphs">Common Corpus Callosum</text>
<text class="cap" x="808" y="814" textLength="209" lengthAdjust="spacingAndGlyphs">and Hippocampus</text>
<text class="cap" x="9" y="861" font-size="22">B</text>
<text class="cap" x="746" y="1150" textLength="216" lengthAdjust="spacingAndGlyphs">Medulla Oblongata</text>
<text class="cap" x="167" y="1352" textLength="155" lengthAdjust="spacingAndGlyphs">Hippocampus</text>
<text class="cap" x="772" y="1603" textLength="188" lengthAdjust="spacingAndGlyphs">Corpus Callosum</text>
</g>
</svg>
